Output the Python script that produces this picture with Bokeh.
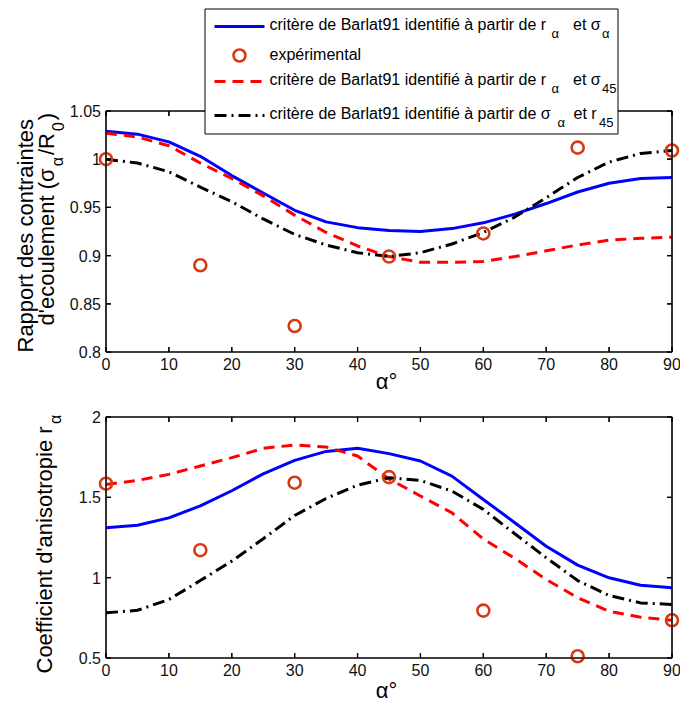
import math
from bokeh.plotting import figure
from bokeh.layouts import column
from bokeh.models import Range1d
from bokeh.core.properties import value
from bokeh.embed import file_html
from bokeh.resources import INLINE

# ---------------- data ----------------
alpha = [0, 5, 10, 15, 20, 25, 30, 35, 40, 45, 50, 55, 60, 65, 70, 75, 80, 85, 90]

# top panel : flow stress ratio sigma_alpha / R0
sig_blue = [1.029, 1.026, 1.018, 1.003, 0.983, 0.965, 0.947, 0.935, 0.929, 0.926,
            0.925, 0.928, 0.934, 0.943, 0.954, 0.966, 0.975, 0.980, 0.981]
sig_red = [1.027, 1.023, 1.014, 0.996, 0.980, 0.962, 0.942, 0.924, 0.910, 0.899,
           0.893, 0.893, 0.894, 0.899, 0.905, 0.911, 0.916, 0.918, 0.919]
sig_black = [1.000, 0.996, 0.987, 0.971, 0.956, 0.938, 0.922, 0.911, 0.903, 0.899,
             0.903, 0.912, 0.924, 0.940, 0.960, 0.981, 0.997, 1.006, 1.009]

alpha_exp = [0, 15, 30, 45, 60, 75, 90]
sig_exp = [1.000, 0.890, 0.827, 0.899, 0.923, 1.012, 1.009]

# bottom panel : anisotropy coefficient r_alpha
r_blue = [1.310, 1.326, 1.372, 1.447, 1.541, 1.646, 1.730, 1.786, 1.805, 1.772,
          1.726, 1.632, 1.487, 1.342, 1.196, 1.078, 0.999, 0.953, 0.937]
r_red = [1.580, 1.605, 1.643, 1.695, 1.747, 1.805, 1.826, 1.813, 1.757, 1.615,
         1.508, 1.404, 1.240, 1.120, 0.989, 0.875, 0.791, 0.754, 0.735]
r_black = [0.781, 0.797, 0.864, 0.982, 1.103, 1.242, 1.387, 1.493, 1.576, 1.622,
           1.605, 1.539, 1.425, 1.273, 1.124, 0.982, 0.889, 0.843, 0.833]
r_exp = [1.585, 1.171, 1.591, 1.626, 0.795, 0.511, 0.735]

x_ticks = [0, 10, 20, 30, 40, 50, 60, 70, 80, 90]
x_labels = ["0", "10", "20", "30", "40", "50", "60", "70", "80", "90"]
y1_ticks = [0.8, 0.85, 0.9, 0.95, 1.0, 1.05]
y1_labels = ["0.8", "0.85", "0.9", "0.95", "1", "1.05"]
y2_ticks = [0.5, 1.0, 1.5, 2.0]
y2_labels = ["0.5", "1", "1.5", "2"]

# ---------------- styles ----------------
FONT = "Liberation Sans"
BLUE = "#0000ff"
RED = "#ff0000"
BLACK = "#000000"
EXP = "#d63a12"
LW = 3
DASH = "11 7"
DASHDOT = "12 5 2 5"
MID = 0.35   # distance baseline -> visual middle, in font sizes
TICK = 5     # tick length, pixels

W = {' ': 278, "'": 191, '(': 333, ')': 333, '/': 278, 'R': 722, 'C': 722, 'B': 667,
     'a': 556, 'b': 556, 'c': 500, 'd': 556, 'e': 556, 'f': 278, 'i': 222, 'l': 222,
     'm': 833, 'n': 556, 'o': 556, 'p': 556, 'r': 333, 's': 500, 't': 278, 'u': 556,
     'x': 500, 'é': 556, 'è': 556, 'à': 556, 'σ': 617, 'α': 578, '°': 400}


def tw(s, size):
    return sum(W.get(c, 556) for c in s) * size / 1000.0


# ---------------- page geometry (pixels) ----------------
PAGE_W = 680
BX0, BX1 = 105.5, 671.5      # left / right edge of both axis boxes
B_LEFT, B_RIGHT = 4, 0
P1_TOP, P1_H = 0, 395
P2_TOP, P2_H = 395, 308
BT, BB = 2, 2
BOX1 = (110.5, 351.5)        # top / bottom of the upper axis box
BOX2 = (416.5, 657.5)        # top / bottom of the lower axis box
LEG = (204.5, 8.5, 617.5, 133.5)   # legend box: left, top, right, bottom


def lin_range(d0, p0, d1, p1, f0, f1):
    k = (d1 - d0) / (p1 - p0)
    return d0 + (f0 - p0) * k, d0 + (f1 - p0) * k


def make_fig(top, h, box, yr, yt, yl):
    fx0, fx1 = B_LEFT, PAGE_W - B_RIGHT
    fy0, fy1 = top + BT, top + h - BB
    xs, xe = lin_range(0, BX0, 90, BX1, fx0, fx1)
    ytop, ybot = lin_range(yr[1], box[0], yr[0], box[1], fy0, fy1)
    p = figure(width=PAGE_W, height=h, x_range=Range1d(xs, xe), y_range=Range1d(ybot, ytop),
               min_border_left=B_LEFT, min_border_right=B_RIGHT, min_border_top=BT,
               min_border_bottom=BB, output_backend="svg", toolbar_location=None,
               x_axis_location=None, y_axis_location=None,
               background_fill_color="white", border_fill_color="white")
    p.grid.visible = False
    p.outline_line_color = None
    # white box with black border, drawn first (same recipe as the legend box)
    p.quad(left=[0], right=[90], bottom=[yr[0]], top=[yr[1]], fill_color="white",
           fill_alpha=1.0, line_color="black", line_width=1)
    nx, ny = len(x_ticks), len(yt)
    # tick labels
    p.text(x=x_ticks, y=[yr[0]] * nx, text=x_labels, y_offset=12,
           text_align="center", text_baseline="middle", text_font=value(FONT),
           text_font_size=value("16px"), text_color="#111111")
    p.text(x=[0] * ny, y=yt, text=yl, x_offset=-5, y_offset=0,
           text_align="right", text_baseline="middle", text_font=value(FONT),
           text_font_size=value("16px"), text_color="#111111")
    return p


def add_box(p, box, yr, yt):
    # box edges and inward ticks (pixel sizes converted to data units)
    px_x = 90 / (BX1 - BX0)
    px_y = (yr[1] - yr[0]) / (box[1] - box[0])
    kx, ky = TICK * px_x, TICK * px_y
    xs = [[0, 90, 90, 0, 0]]
    ys = [[yr[0], yr[0], yr[1], yr[1], yr[0]]]
    for t in x_ticks:
        xs += [[t, t], [t, t]]
        ys += [[yr[0], yr[0] + ky], [yr[1], yr[1] - ky]]
    for v in yt:
        xs += [[0, kx], [90, 90 - kx]]
        ys += [[v, v], [v, v]]
    p.multi_line(xs=xs, ys=ys, line_color="black", line_width=1.2)
    # ticks again as short dash markers (centred half a tick inside the box)
    nx, ny = len(x_ticks), len(yt)
    mk = dict(marker="dash", size=TICK, line_color="black", line_width=1.2)
    p.scatter(x=x_ticks, y=[yr[0] + ky / 2] * nx, angle=math.pi / 2, **mk)
    p.scatter(x=x_ticks, y=[yr[1] - ky / 2] * nx, angle=math.pi / 2, **mk)
    p.scatter(x=[kx / 2] * ny, y=yt, angle=0, **mk)
    p.scatter(x=[90 - kx / 2] * ny, y=yt, angle=0, **mk)


p1 = make_fig(P1_TOP, P1_H, BOX1, (0.8, 1.05), y1_ticks, y1_labels)
p2 = make_fig(P2_TOP, P2_H, BOX2, (0.5, 2.0), y2_ticks, y2_labels)

# anchors: data point at a box's top-left corner and its page pixel
A1 = (0, 1.05, BX0, BOX1[0])
A2 = (0, 2.0, BX0, BOX2[0])


def px1(X, Y):
    # page pixel -> data coordinates of the upper panel
    x = (X - BX0) * 90 / (BX1 - BX0)
    y = 1.05 - (Y - BOX1[0]) * 0.25 / (BOX1[1] - BOX1[0])
    return x, y


def put(p, anc, X, Y, txt, size, angle=0.0, align="left"):
    # (X, Y): page pixel of the text start on its baseline
    ax, ay, aX, aY = anc
    if angle:
        X -= MID * size
    else:
        Y -= MID * size
    p.text(x=[ax], y=[ay], text=[txt], x_offset=X - aX, y_offset=Y - aY, angle=angle,
           text_font=value(FONT), text_font_size=value(f"{size}px"), text_color="black",
           text_align=align, text_baseline="middle")


def put_vertical(p, anc, X, Y, pieces):
    # text rotated to read upwards, starting at page pixel (X, Y) on the baseline
    y = Y
    for txt, size, shift in pieces:
        if shift:
            y -= 2
        put(p, anc, X + shift, y, txt, size, angle=math.pi / 2)
        y -= tw(txt, size)
        if shift:
            y -= 2


# ---------------- top panel ----------------
p1.line(alpha, sig_blue, line_color=BLUE, line_width=LW)
p1.line(alpha, sig_red, line_color=RED, line_width=LW, line_dash=DASH)
p1.line(alpha, sig_black, line_color=BLACK, line_width=LW, line_dash=DASHDOT)
p1.scatter(alpha_exp, sig_exp, marker="circle", size=12, fill_color=None,
           line_color=EXP, line_width=2.6)
add_box(p1, BOX1, (0.8, 1.05), y1_ticks)

# ---------------- bottom panel ----------------
p2.line(alpha, r_blue, line_color=BLUE, line_width=LW)
p2.line(alpha, r_red, line_color=RED, line_width=LW, line_dash=DASH)
p2.line(alpha, r_black, line_color=BLACK, line_width=LW, line_dash=DASHDOT)
p2.scatter(alpha_exp, r_exp, marker="circle", size=12, fill_color=None,
           line_color=EXP, line_width=2.6)
add_box(p2, BOX2, (0.5, 2.0), y2_ticks)

# ---------------- legend (drawn on top of the upper box) ----------------
l, t = px1(LEG[0], LEG[1])
r, b = px1(LEG[2], LEG[3])
p1.quad(left=[l], right=[r], top=[t], bottom=[b], fill_color="white",
        line_color="black", line_width=1)
s0, _ = px1(214, 0)
s1, _ = px1(264, 0)
sc, _ = px1(239, 0)
_, y_r1 = px1(0, 26)
_, y_r2 = px1(0, 55)
_, y_r3 = px1(0, 81)
_, y_r4 = px1(0, 115)
p1.line([s0, s1], [y_r1, y_r1], line_color=BLUE, line_width=LW)
p1.scatter([sc], [y_r2], marker="circle", size=12, fill_color=None,
           line_color=EXP, line_width=2.6)
p1.line([s0, s1], [y_r3, y_r3], line_color=RED, line_width=LW, line_dash=DASH)
p1.line([s0, s1], [y_r4, y_r4], line_color=BLACK, line_width=LW, line_dash=DASHDOT)

SUB = 8
main = "critère de Barlat91 identifié à partir de "
rows = [
    [(269, 29.5, main + "r", 16), (551, 29.5 + SUB, "α", 13),
     (572.5, 29.5, "et σ", 16), (601.5, 29.5 + SUB, "α", 13)],
    [(269, 59.3, "expérimental", 16)],
    [(269, 85, main + "r", 16), (551, 85 + SUB, "α", 13),
     (572.5, 85, "et σ", 16), (601.5, 85 + SUB, "45", 13)],
    [(269, 118.3, main + "σ", 16), (557, 118.3 + SUB, "α", 13),
     (573, 118.3, "et r", 16), (598.5, 118.3 + SUB, "45", 13)],
]
for row in rows:
    for X, Y, txt, size in row:
        put(p1, A1, X, Y, txt, size)

# ---------------- axis titles ----------------
put(p1, A1, 386, 389, "α°", 22, align="center")
put(p2, A2, 386, 698, "α°", 22, align="center")

put(p1, A1, 33, 352, "Rapport des contraintes", 22, angle=math.pi / 2)
put_vertical(p1, A1, 54, 325, [("d'ecoulement (σ", 22, 0), ("α", 16, 9),
                               ("/R", 22, 0), ("0", 16, 9), (")", 22, 0)])
put_vertical(p2, A2, 52, 673, [("Coefficient d'anisotropie r", 22, 0), ("α", 16, 9)])

layout = column(p1, p2, spacing=0)
open("out.html", "w").write(file_html(layout, INLINE))
